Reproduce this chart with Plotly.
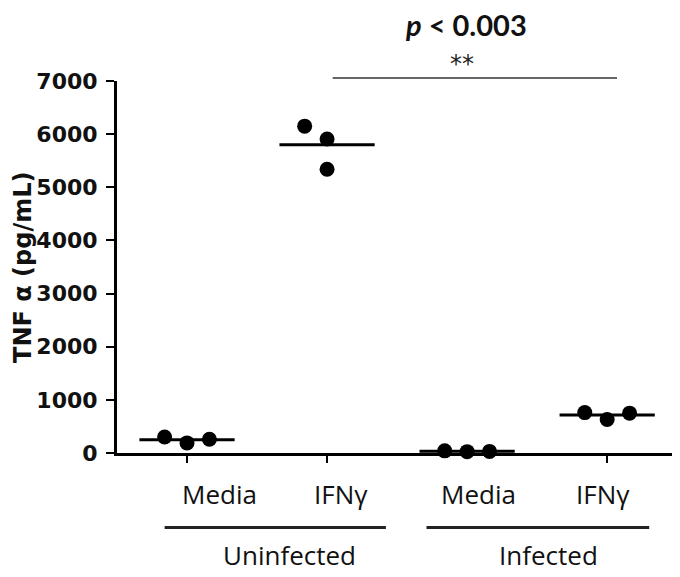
import plotly.graph_objects as go

# groups along the x axis
groups = ['Uninfected Media', 'Uninfected IFNγ', 'Infected Media', 'Infected IFNγ']
tick_labels = ['Media', 'IFNγ', 'Media', 'IFNγ']
group_names = ['Uninfected', 'Infected']

# TNFα values (pg/mL), three replicates per group
vals_uninf_media = [300, 190, 260]
vals_uninf_ifng = [6150, 5910, 5340]
vals_inf_media = [40, 25, 30]
vals_inf_ifng = [760, 630, 750]
all_vals = [vals_uninf_media, vals_uninf_ifng, vals_inf_media, vals_inf_ifng]

# horizontal spread of the dots within each group
spread = [[-0.16, 0.0, 0.16], [-0.16, 0.0, 0.0], [-0.16, 0.0, 0.16], [-0.16, 0.0, 0.16]]

fig = go.Figure()

for i, vals in enumerate(all_vals):
    fig.add_trace(go.Scatter(
        x=[i + d for d in spread[i]], y=vals, mode='markers',
        marker=dict(color='black', size=15), showlegend=False, cliponaxis=False))
    m = sum(vals) / len(vals)
    fig.add_trace(go.Scatter(
        x=[i - 0.34, i + 0.34], y=[m, m], mode='lines',
        line=dict(color='black', width=3), showlegend=False, cliponaxis=False))

label_font = dict(family='Open Sans, Lato, sans-serif', size=26, color='#111')
label_x = [0.235, 1.1, 2.08, 2.97]
for lx, t in zip(label_x, tick_labels):
    fig.add_annotation(x=lx, y=-0.11, xref='x', yref='paper', yanchor='middle',
                       text=t, showarrow=False, font=label_font)

# group underlines and names
fig.add_shape(type='line', x0=-0.16, x1=1.42, y0=-0.20, y1=-0.20, xref='x', yref='paper',
              line=dict(color='#222', width=3))
fig.add_shape(type='line', x0=1.71, x1=3.3, y0=-0.20, y1=-0.20, xref='x', yref='paper',
              line=dict(color='#222', width=3))
fig.add_annotation(x=0.73, y=-0.274, xref='x', yref='paper', yanchor='middle',
                   text=group_names[0], showarrow=False, font=label_font)
fig.add_annotation(x=2.58, y=-0.274, xref='x', yref='paper', yanchor='middle',
                   text=group_names[1], showarrow=False, font=label_font)

# significance bracket
fig.add_shape(type='line', x0=1.04, x1=3.07, y0=1.008, y1=1.008, xref='x', yref='paper',
              line=dict(color='#333', width=1.5))
fig.add_annotation(x=1.96, y=1.045, xref='x', yref='paper', yanchor='middle', text='**',
                   showarrow=False, font=dict(family='DejaVu Sans', size=24, color='#222'))
fig.add_annotation(x=1.99, y=1.152, xref='x', yref='paper', yanchor='middle',
                   text='<b><i>p</i> &lt; 0.003</b>', showarrow=False,
                   font=dict(family='Lato, Open Sans, sans-serif', size=29, color='#111'))

# y axis title as a rotated annotation
fig.add_annotation(x=-0.167, y=0.5, xref='paper', yref='paper', textangle=-90,
                   xanchor='center', yanchor='middle', text='<b>TNF α (pg/mL)</b>',
                   showarrow=False, font=dict(family='DejaVu Sans', size=24, color='#111'))

# the page body adds 8px, so margins are shifted to keep the plot where it belongs
fig.update_layout(
    width=680, height=577,
    margin=dict(l=109, r=8, t=73, b=132),
    plot_bgcolor='white', paper_bgcolor='white',
    xaxis=dict(range=[-0.5, 3.52], showgrid=False, zeroline=False,
               showline=True, linecolor='black', linewidth=3,
               tickmode='array', tickvals=[0, 1, 3], ticktext=['', '', ''],
               ticks='outside', ticklen=7, tickwidth=2, tickcolor='black'),
    yaxis=dict(range=[0, 7000], showgrid=False, zeroline=False,
               showline=True, linecolor='black', linewidth=3,
               tickvals=[0, 1000, 2000, 3000, 4000, 5000, 6000, 7000],
               ticks='outside', ticklen=8, tickwidth=2, tickcolor='black',
               ticklabelstandoff=4,
               tickfont=dict(family='DejaVu Sans', size=22, color='#111', weight='bold')),
)

fig.write_html("out.html")
